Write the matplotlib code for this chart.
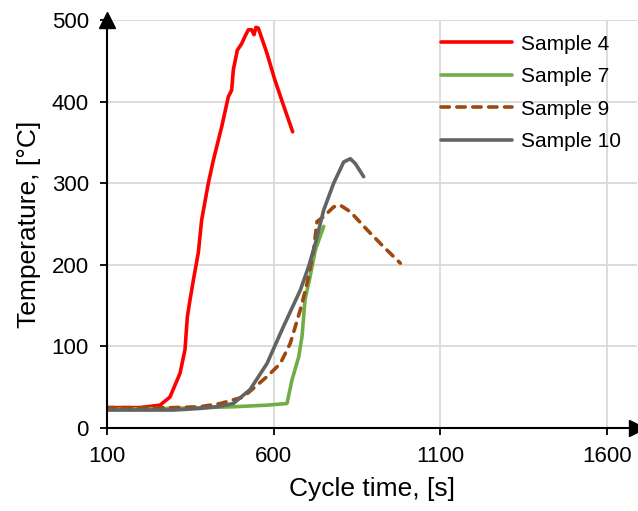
import matplotlib
matplotlib.use("Agg")
import matplotlib.pyplot as plt

plt.rcParams['font.family'] = ['Liberation Sans', 'DejaVu Sans']

# Sample 4 (red)
s4_t = [100, 200, 259, 289, 319, 334, 341, 349, 359, 374, 384, 404, 419, 444, 464,
        474, 479, 491, 504, 514, 524, 534, 541, 547, 554, 580, 604, 629, 657]
s4_T = [25, 25, 28, 38, 67, 96, 136, 157, 181, 215, 255, 300, 328, 369, 406,
        414, 439, 463, 471, 480, 488, 488, 482, 491, 490, 459, 426, 396, 363]

# Sample 7 (green)
s7_t = [100, 300, 479, 580, 640, 655, 675, 685, 694, 709, 725, 750]
s7_T = [23, 24, 26, 28, 30, 59, 87, 112, 157, 185, 218, 247]

# Sample 9 (brown, dashed)
s9_t = [100, 300, 379, 440, 509, 580, 620, 650, 680, 700, 720, 730, 750, 780, 800,
        830, 880, 930, 980]
s9_T = [25, 25, 26, 30, 38, 63, 79, 104, 145, 177, 218, 253, 259, 271, 273,
        265, 243, 222, 202]

# Sample 10 (grey)
s10_t = [100, 300, 379, 429, 479, 529, 580, 629, 680, 705, 725, 750, 780, 810,
         830, 845, 870]
s10_T = [22, 22, 24, 26, 30, 47, 79, 124, 169, 198, 226, 267, 300, 326,
         330, 324, 308]

x_ticks = [100, 600, 1100, 1600]
y_ticks = [0, 100, 200, 300, 400, 500]

fig = plt.figure(figsize=(6.38, 5.11), dpi=100)
ax = fig.add_axes([107/638, 1-428/511, (637-107)/638, (428-20)/511])

lw = 2.6
ax.plot(s4_t, s4_T, color='#ff0000', lw=lw, label='Sample 4',
        solid_joinstyle='round', solid_capstyle='round')
ax.plot(s7_t, s7_T, color='#70ad47', lw=lw, label='Sample 7',
        solid_joinstyle='round', solid_capstyle='round')
ax.plot(s9_t, s9_T, color='#9e480e', lw=lw, ls=(0, (2.3, 2.1)), label='Sample 9',
        dash_capstyle='round', dash_joinstyle='round')
ax.plot(s10_t, s10_T, color='#636363', lw=lw, label='Sample 10',
        solid_joinstyle='round', solid_capstyle='round')

ax.set_xlim(100, 1690)
ax.set_ylim(0, 500)
ax.set_xticks(x_ticks)
ax.set_yticks(y_ticks)
ax.grid(True, color='#d9d9d9', lw=1.3)
ax.set_axisbelow(True)
for s in ['top', 'right']:
    ax.spines[s].set_visible(False)
for s in ['left', 'bottom']:
    ax.spines[s].set_linewidth(1.5)
    ax.spines[s].set_color('black')
ax.tick_params(direction='out', length=5, width=1.3, labelsize=16)
ax.tick_params(axis='x', pad=8)
ax.tick_params(axis='y', pad=8)

# arrow heads
ax.plot([1], [0], marker='>', ms=11, color='black', transform=ax.transAxes, clip_on=False)
ax.plot([0], [1], marker='^', ms=11, color='black', transform=ax.transAxes, clip_on=False)

ax.set_xlabel('Cycle time, [s]', fontsize=19, labelpad=7)
ax.set_ylabel('Temperature, [°C]', fontsize=19, labelpad=8)

ax.legend(loc='upper left', bbox_to_anchor=(0.594, 1.01), frameon=False,
          fontsize=15, handlelength=3.45, handletextpad=0.4, labelspacing=0.65)

fig.savefig('out.png', dpi=100)
